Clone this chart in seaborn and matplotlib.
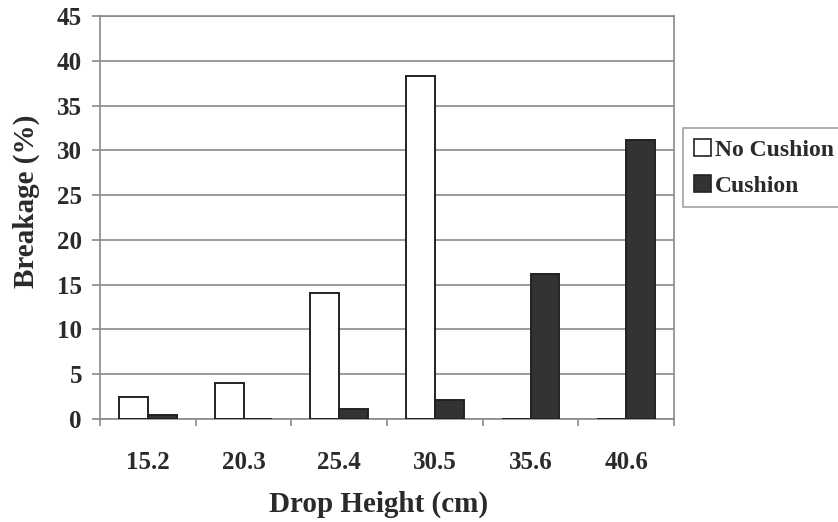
import matplotlib
matplotlib.use("Agg")
import matplotlib.pyplot as plt
import seaborn as sns
import pandas as pd
from matplotlib.patches import Patch

heights = ["15.2", "20.3", "25.4", "30.5", "35.6", "40.6"]
no_cushion = [2.5, 4.0, 14.1, 38.3, 0.0, 0.0]
cushion = [0.4, 0.0, 1.1, 2.1, 16.2, 31.2]
series = ["No Cushion", "Cushion"]
y_ticks = [0, 5, 10, 15, 20, 25, 30, 35, 40, 45]

df = pd.DataFrame({
    "height": heights * 2,
    "value": no_cushion + cushion,
    "series": [series[0]] * len(heights) + [series[1]] * len(heights),
})

sns.set_style("white")
plt.rcParams["font.family"] = ["Liberation Serif", "DejaVu Serif"]
plt.rcParams["font.weight"] = "bold"

fig = plt.figure(figsize=(8.38, 5.22), dpi=100)
ax = fig.add_axes([100 / 838, 1 - 419 / 522, 574 / 838, 403 / 522])

palette = {"No Cushion": "white", "Cushion": "#333333"}
sns.barplot(data=df, x="height", y="value", hue="series", order=heights,
            hue_order=series, palette=palette, width=0.6, edgecolor="#222222",
            linewidth=1.4, ax=ax, legend=False, zorder=3)

ax.set_ylim(0, 45)
ax.set_xlim(-0.5, len(heights) - 0.5)
ax.set_yticks(y_ticks)
ax.yaxis.grid(True, color="#8a8a8a", linewidth=1.2, zorder=0)
ax.set_axisbelow(True)
for s in ax.spines.values():
    s.set_color("#8a8a8a")
    s.set_linewidth(1.2)
    s.set_visible(True)

tc = "#2a2a2a"
ax.tick_params(axis="y", which="major", length=6, width=1.2, color="#8a8a8a",
               left=True, labelsize=18, labelcolor=tc, pad=7)
ax.tick_params(axis="x", which="major", length=0, labelsize=18, labelcolor=tc, pad=23)
ax.set_xticks(range(len(heights)))
ax.set_xticklabels(heights)
ax.set_xticks([i + 0.5 for i in range(-1, len(heights))], minor=True)
ax.tick_params(axis="x", which="minor", length=5, width=1.2, color="#8a8a8a",
               bottom=True, direction="out")
for lab in ax.get_xticklabels() + ax.get_yticklabels():
    lab.set_fontweight("bold")

ax.set_xlabel("Drop Height (cm)", fontsize=21, fontweight="bold", color=tc)
ax.set_ylabel("Breakage (%)", fontsize=21, fontweight="bold", color=tc)
ax.xaxis.set_label_coords(0.486, -0.178)
ax.yaxis.set_label_coords(-0.104, 0.54)

handles = [Patch(facecolor="white", edgecolor="#222222", linewidth=1.2, label=series[0]),
           Patch(facecolor="#333333", edgecolor="#222222", linewidth=1.2, label=series[1])]
leg = fig.legend(handles=handles, loc="upper left", bbox_to_anchor=(683 / 838, 1 - 128 / 522),
                 frameon=True, fancybox=False, handlelength=0.75, handleheight=0.75,
                 handletextpad=0.15, borderpad=0.45, labelspacing=0.6, borderaxespad=0,
                 prop={"family": "Liberation Serif", "weight": "bold", "size": 17})
leg.get_frame().set_edgecolor("#8a8a8a")
leg.get_frame().set_linewidth(1.2)
for t in leg.get_texts():
    t.set_color(tc)

fig.savefig("out.png", dpi=100)
